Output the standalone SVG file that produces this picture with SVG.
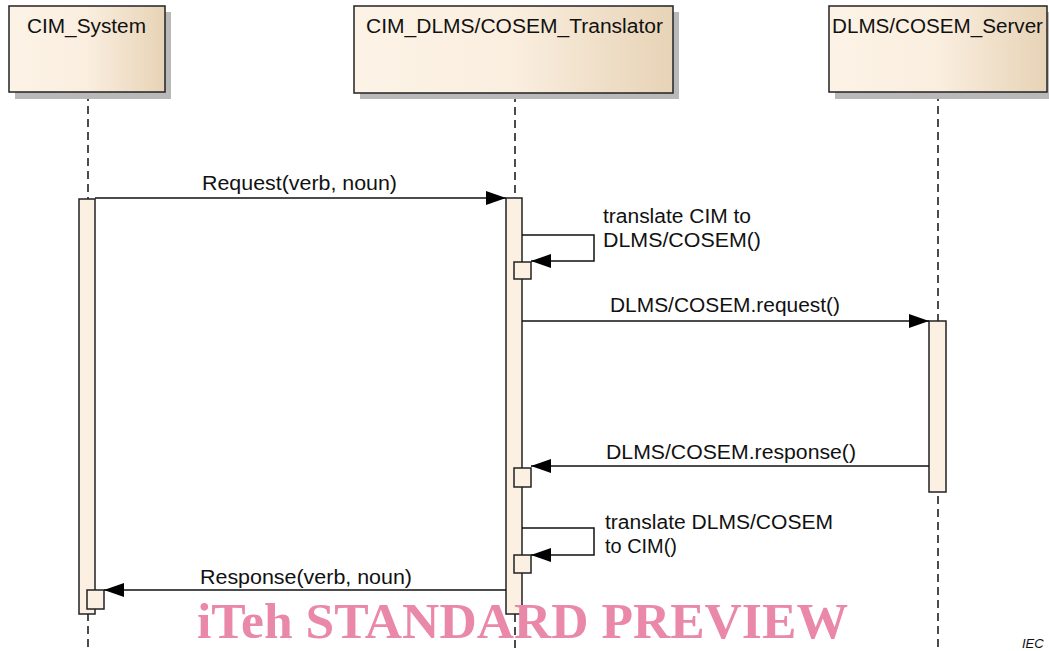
<svg xmlns="http://www.w3.org/2000/svg" width="1049" height="651" viewBox="0 0 1049 651">
  <defs>
    <linearGradient id="hdr" x1="0" y1="0" x2="1" y2="0">
      <stop offset="0" stop-color="#fcf3e6"/>
      <stop offset="0.5" stop-color="#faeedf"/>
      <stop offset="1" stop-color="#e7d3b6"/>
    </linearGradient>
    <marker id="ah" viewBox="0 0 20 14" refX="20" refY="7" markerWidth="20" markerHeight="14" markerUnits="userSpaceOnUse" orient="auto">
      <path d="M0,0 L20,7 L0,14 Z" fill="#000"/>
    </marker>
    <style>
      .shadow { fill: #b9b9b9; }
      .head { fill: url(#hdr); stroke: #222; stroke-width: 1.5; }
      .life { stroke: #000; stroke-width: 1.4; stroke-dasharray: 8 5; fill: none; }
      .act { fill: #fbf0e1; stroke: #222; stroke-width: 1.5; }
      .msg { stroke: #111; stroke-width: 1.5; fill: none; marker-end: url(#ah); }
      .lbl { font-family: "Liberation Sans", Arial, sans-serif; font-size: 20px; fill: #111; }
      .wm { font-family: "Liberation Serif", "Times New Roman", serif; font-weight: bold; font-size: 51px; fill: #ea88a9; }
      .iec { font-family: "Liberation Sans", Arial, sans-serif; font-style: italic; font-size: 13px; fill: #111; }
    </style>
  </defs>

  <g id="lifelines">
    <line class="life" x1="88" y1="93" x2="88" y2="648"/>
    <line class="life" x1="515" y1="94" x2="515" y2="648"/>
    <line class="life" x1="938" y1="93" x2="938" y2="648"/>
  </g>

  <g id="CIM_System">
    <rect class="shadow" x="15" y="12" width="156" height="87"/>
    <rect class="head" x="9" y="6" width="156" height="86"/>
    <text class="lbl" x="27" y="33" textLength="119" lengthAdjust="spacingAndGlyphs">CIM_System</text>
  </g>

  <g id="CIM_DLMS_COSEM_Translator">
    <rect class="shadow" x="360" y="12" width="319" height="87"/>
    <rect class="head" x="354" y="6" width="319" height="87"/>
    <text class="lbl" x="366" y="33" textLength="297" lengthAdjust="spacingAndGlyphs">CIM_DLMS/COSEM_Translator</text>
  </g>

  <g id="DLMS_COSEM_Server">
    <rect class="shadow" x="835" y="12" width="218" height="87"/>
    <rect class="head" x="829" y="6" width="218" height="86"/>
    <text class="lbl" x="832" y="33" textLength="211" lengthAdjust="spacingAndGlyphs">DLMS/COSEM_Server</text>
  </g>

  <g id="activations">
    <rect class="act" x="79" y="199" width="16" height="415"/>
    <rect class="act" x="506" y="198" width="16" height="416"/>
    <rect class="act" x="929" y="321" width="17" height="171"/>
    <rect class="act" x="514" y="262" width="17" height="17"/>
    <rect class="act" x="514" y="468" width="17" height="19"/>
    <rect class="act" x="514" y="555" width="17" height="18"/>
    <rect class="act" x="87" y="590" width="17" height="19"/>
  </g>

  <g id="connectors">
    <line class="msg" x1="95" y1="198" x2="506" y2="198"/>
    <path class="msg" d="M522,235 H594 V261 H531"/>
    <line class="msg" x1="522" y1="321" x2="929" y2="321"/>
    <line class="msg" x1="929" y1="466" x2="531" y2="466"/>
    <path class="msg" d="M522,528 H594 V555 H531"/>
    <line class="msg" x1="506" y1="590" x2="104" y2="590"/>
  </g>

  <g id="labels">
    <text class="lbl" x="202" y="190" textLength="195" lengthAdjust="spacingAndGlyphs">Request(verb, noun)</text>
    <text class="lbl" x="603" y="223" textLength="148" lengthAdjust="spacingAndGlyphs">translate CIM to</text>
    <text class="lbl" x="603" y="247" textLength="158" lengthAdjust="spacingAndGlyphs">DLMS/COSEM()</text>
    <text class="lbl" x="610" y="312" textLength="230" lengthAdjust="spacingAndGlyphs">DLMS/COSEM.request()</text>
    <text class="lbl" x="606" y="459" textLength="250" lengthAdjust="spacingAndGlyphs">DLMS/COSEM.response()</text>
    <text class="lbl" x="605" y="529" textLength="228" lengthAdjust="spacingAndGlyphs">translate DLMS/COSEM</text>
    <text class="lbl" x="605" y="553" textLength="72" lengthAdjust="spacingAndGlyphs">to CIM()</text>
    <text class="lbl" x="200" y="584" textLength="212" lengthAdjust="spacingAndGlyphs">Response(verb, noun)</text>
  </g>

  <text class="wm" x="197" y="638" textLength="651" lengthAdjust="spacingAndGlyphs">iTeh STANDARD PREVIEW</text>
  <text class="iec" x="1022" y="648">IEC</text>
</svg>
